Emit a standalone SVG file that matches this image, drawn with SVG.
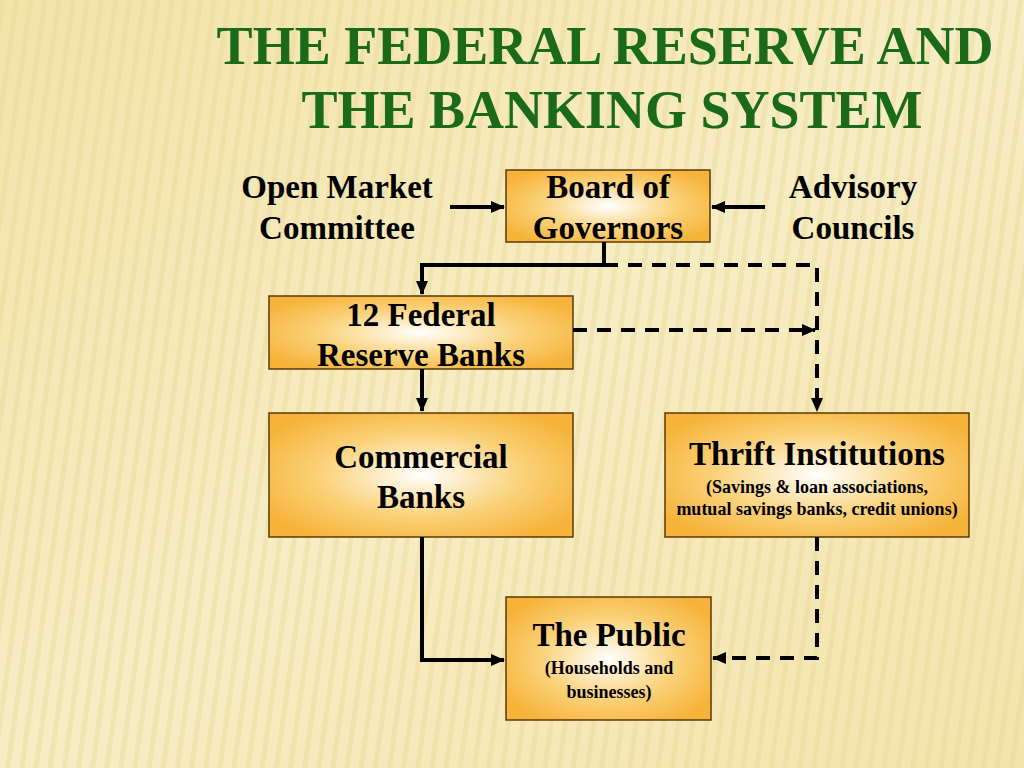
<svg xmlns="http://www.w3.org/2000/svg" width="1024" height="768" viewBox="0 0 1024 768">
<defs>
<linearGradient id="bg" x1="0" y1="0" x2="1" y2="1"><stop offset="0" stop-color="#F2E3A8"/><stop offset="0.5" stop-color="#F7EDC4"/><stop offset="1" stop-color="#F3E4AC"/></linearGradient>
<pattern id="stripes" width="14" height="768" patternUnits="userSpaceOnUse" patternTransform="rotate(8)"><rect width="5" height="768" fill="#E8D48E" opacity="0.35"/></pattern>
<radialGradient id="box" cx="0.5" cy="0.5" r="0.6"><stop offset="0" stop-color="#FFFFFF"/><stop offset="0.55" stop-color="#FAD27A"/><stop offset="1" stop-color="#F6B33A"/></radialGradient>
<marker id="ah" markerWidth="14" markerHeight="14" refX="13" refY="7" orient="auto" markerUnits="userSpaceOnUse"><path d="M0,1 L14,7 L0,13 z" fill="#000"/></marker>
<style>
.box{fill:url(#box);stroke:#5A3A0A;stroke-width:1.5}
.t{font-family:"Liberation Serif","Times New Roman",serif;font-weight:bold;fill:#000;text-anchor:middle}
.big{font-size:33px}
.small{font-size:18px}
.ttl{font-family:"Liberation Serif","Times New Roman",serif;font-weight:bold;fill:#1A6A1A;font-size:54px;text-anchor:middle}
.c{fill:none;stroke:#000;stroke-width:4}
.d{stroke-dasharray:14 10}
</style>
</defs>
<rect width="1024" height="768" fill="url(#bg)"/>
<rect width="1024" height="768" fill="url(#stripes)"/>
<text class="ttl" x="605" y="64">THE FEDERAL RESERVE AND</text>
<text class="ttl" x="612" y="128">THE BANKING SYSTEM</text>
<g id="open-market"><text class="t big" x="337" y="198">Open Market</text><text class="t big" x="337" y="239">Committee</text></g>
<g id="advisory"><text class="t big" x="853" y="198">Advisory</text><text class="t big" x="853" y="239">Councils</text></g>
<g id="board"><rect class="box" x="506" y="170" width="204" height="72"/><text class="t big" x="608" y="198">Board of</text><text class="t big" x="608" y="239">Governors</text></g>
<g id="frb"><rect class="box" x="269" y="296" width="304" height="73"/><text class="t big" x="421" y="326">12 Federal</text><text class="t big" x="421" y="366">Reserve Banks</text></g>
<g id="commercial"><rect class="box" x="269" y="413" width="304" height="124"/><text class="t big" x="421" y="468">Commercial</text><text class="t big" x="421" y="508">Banks</text></g>
<g id="thrift"><rect class="box" x="665" y="413" width="304" height="124"/><text class="t big" x="817" y="465">Thrift Institutions</text><text class="t small" x="817" y="493">(Savings &amp; loan associations,</text><text class="t small" x="817" y="515">mutual savings banks, credit unions)</text></g>
<g id="public"><rect class="box" x="506" y="597" width="205" height="123"/><text class="t big" x="609" y="646">The Public</text><text class="t small" x="609" y="674">(Households and</text><text class="t small" x="609" y="698">businesses)</text></g>
<g id="connectors">
<path class="c" d="M450,207 H504" marker-end="url(#ah)"/>
<path class="c" d="M765,207 H712" marker-end="url(#ah)"/>
<path class="c" d="M604,242 V265 H422 V294" marker-end="url(#ah)"/>
<path class="c d" d="M604,265 H817 V411" marker-end="url(#ah)"/>
<path class="c d" d="M573,330 H815" marker-end="url(#ah)"/>
<path class="c" d="M422,369 V411" marker-end="url(#ah)"/>
<path class="c" d="M422,537 V660 H504" marker-end="url(#ah)"/>
<path class="c d" d="M817,537 V658 H713" marker-end="url(#ah)"/>
</g>
</svg>
